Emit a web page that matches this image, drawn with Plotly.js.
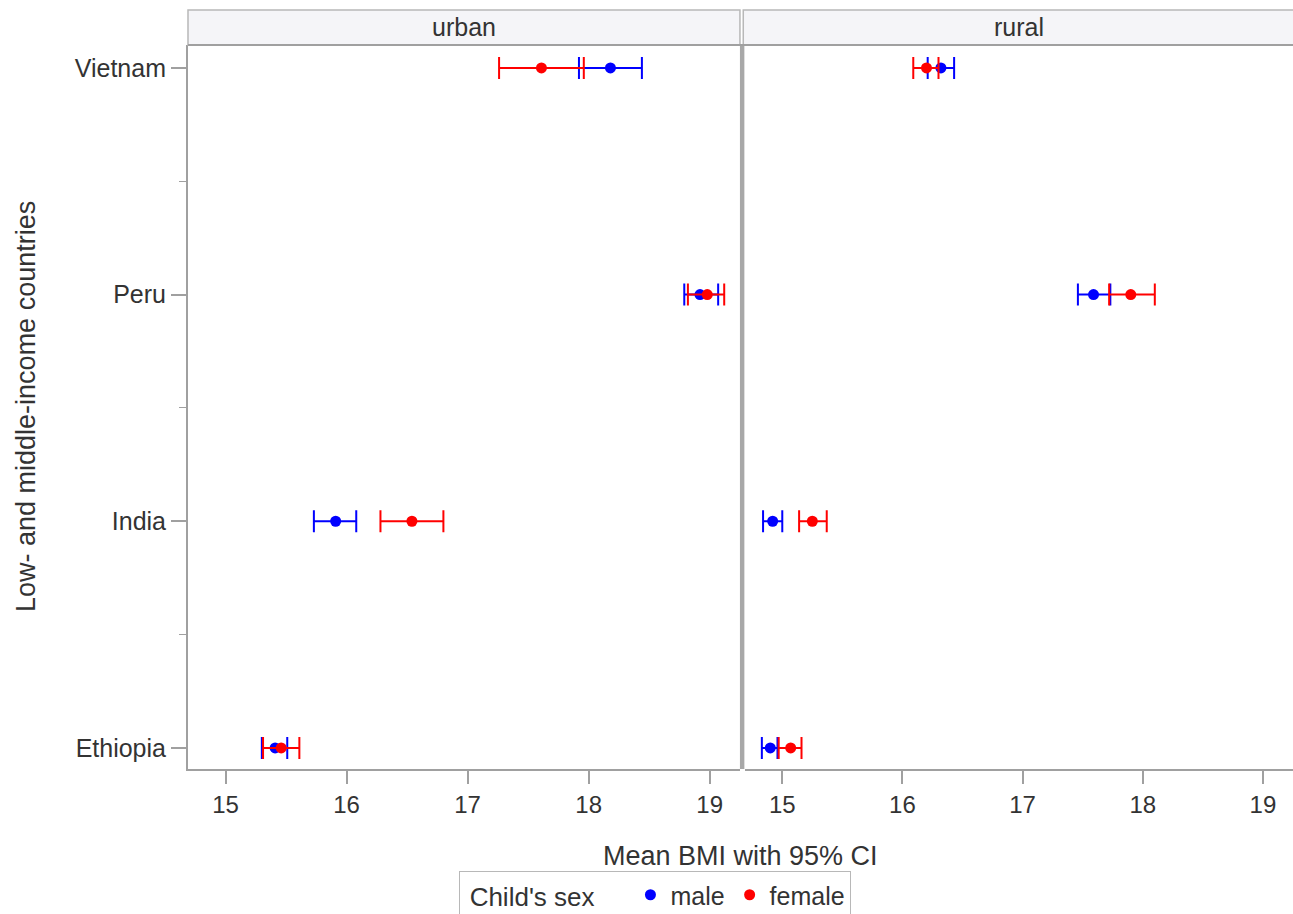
<!DOCTYPE html>
<html>
<head>
<meta charset="utf-8">
<script src="https://cdn.plot.ly/plotly-3.0.1.min.js"></script>
<style>html,body{margin:0;padding:0;background:#fff;}#chart{width:1293px;height:914px;}</style>
</head>
<body>
<div id="chart"></div>
<script>
// Data (y index 0..3 = Ethiopia, India, Peru, Vietnam)
const countries = ['Ethiopia', 'India', 'Peru', 'Vietnam'];
const panels = ['urban', 'rural'];

const urbanMaleMean   = [15.41, 15.91, 18.92, 18.18];
const urbanMaleLow    = [15.30, 15.73, 18.79, 17.92];
const urbanMaleHigh   = [15.51, 16.08, 19.07, 18.44];
const urbanFemaleMean = [15.46, 16.54, 18.98, 17.61];
const urbanFemaleLow  = [15.31, 16.28, 18.82, 17.26];
const urbanFemaleHigh = [15.61, 16.80, 19.12, 17.96];

const ruralMaleMean   = [14.90, 14.92, 17.59, 16.32];
const ruralMaleLow    = [14.83, 14.84, 17.46, 16.21];
const ruralMaleHigh   = [14.96, 15.00, 17.73, 16.43];
const ruralFemaleMean = [15.07, 15.25, 17.90, 16.20];
const ruralFemaleLow  = [14.97, 15.14, 17.72, 16.09];
const ruralFemaleHigh = [15.16, 15.37, 18.10, 16.30];

const xTicks = [15, 16, 17, 18, 19];

const FONT = 'Liberation Sans, Arial, sans-serif';
const TXT = '#333';
const yIdx = countries.map((c, i) => i);

function trace(name, color, mean, low, high, xa, show) {
  return {
    type: 'scatter', mode: 'markers', name: name, legendgroup: name, showlegend: show,
    x: mean, y: yIdx, xaxis: xa, yaxis: 'y',
    marker: {color: color, size: 11},
    error_x: {type: 'data', symmetric: false,
      array: high.map((h, i) => h - mean[i]),
      arrayminus: low.map((l, i) => mean[i] - l),
      color: color, thickness: 2, width: 11},
    hoverinfo: 'x+y'
  };
}

const data = [
  trace('male', '#0000ff', urbanMaleMean, urbanMaleLow, urbanMaleHigh, 'x', true),
  trace('female', '#ff0000', urbanFemaleMean, urbanFemaleLow, urbanFemaleHigh, 'x', true),
  trace('male', '#0000ff', ruralMaleMean, ruralMaleLow, ruralMaleHigh, 'x2', false),
  trace('female', '#ff0000', ruralFemaleMean, ruralFemaleLow, ruralFemaleHigh, 'x2', false)
];

const YTOP = 0.9539;
const xaxBase = {
  range: [14.69, 19.25], tickmode: 'array', tickvals: xTicks, ticktext: xTicks.map(String),
  ticks: 'outside', ticklen: 13, tickcolor: '#a0a0a0', tickwidth: 2,
  showline: true, linecolor: '#a0a0a0', linewidth: 2, showgrid: false, zeroline: false,
  tickfont: {family: FONT, size: 24, color: TXT}, anchor: 'y', fixedrange: true
};

const layout = {
  width: 1293, height: 914,
  margin: {l: 188, r: 0, t: 10, b: 145, autoexpand: false},
  paper_bgcolor: '#fff', plot_bgcolor: '#fff',
  font: {family: FONT, color: TXT},
  showlegend: true,
  legend: {
    orientation: 'h', x: 0.423, xanchor: 'center', y: -0.1344, yanchor: 'top',
    title: {text: "\u00a0Child's sex\u00a0\u00a0\u00a0\u00a0", font: {family: FONT, size: 26, color: TXT}},
    font: {family: FONT, size: 25, color: TXT},
    bordercolor: '#b8b8b8', borderwidth: 1, bgcolor: '#fff', itemwidth: 30
  },
  xaxis: Object.assign({}, xaxBase, {domain: [0, 0.4995]}),
  xaxis2: Object.assign({}, xaxBase, {domain: [0.5041, 1]}),
  yaxis: {
    domain: [0, YTOP], range: [-0.093, 3.101],
    tickmode: 'array', tickvals: yIdx, ticktext: countries,
    ticks: 'outside', ticklen: 15, tickcolor: '#a0a0a0', tickwidth: 2,
    minor: {tickvals: [0.5, 1.5, 2.5], ticks: 'outside', ticklen: 7, tickcolor: '#a0a0a0', tickwidth: 1},
    showline: true, linecolor: '#a0a0a0', linewidth: 2, showgrid: false, zeroline: false,
    tickfont: {family: FONT, size: 25, color: TXT}, fixedrange: true
  },
  shapes: [
    // header strips
    {type: 'rect', xref: 'paper', yref: 'paper', x0: 0, x1: 0.4995, y0: YTOP, y1: 1,
     fillcolor: '#f5f5f8', line: {color: '#b8b8b8', width: 1.5}},
    {type: 'rect', xref: 'paper', yref: 'paper', x0: 0.5025, x1: 1.002, y0: YTOP, y1: 1,
     fillcolor: '#f5f5f8', line: {color: '#b8b8b8', width: 1.5}},
    // divider between panels
    {type: 'rect', xref: 'paper', yref: 'paper', x0: 0.4995, x1: 0.5035, y0: 0, y1: YTOP,
     fillcolor: '#a8a8a8', line: {width: 0}},
    // top border of plot area
    {type: 'line', xref: 'paper', yref: 'paper', x0: 0, x1: 1, y0: YTOP, y1: YTOP,
     line: {color: '#a0a0a0', width: 2}}
  ],
  annotations: [
    {text: panels[0], xref: 'paper', yref: 'paper', x: 0.2497, y: (YTOP + 1) / 2,
     xanchor: 'center', yanchor: 'middle', showarrow: false, font: {family: FONT, size: 25, color: TXT}},
    {text: panels[1], xref: 'paper', yref: 'paper', x: 0.752, y: (YTOP + 1) / 2,
     xanchor: 'center', yanchor: 'middle', showarrow: false, font: {family: FONT, size: 25, color: TXT}},
    {text: 'Mean BMI with 95% CI', xref: 'paper', yref: 'paper', x: 0.5, y: -0.114,
     xanchor: 'center', yanchor: 'middle', showarrow: false, font: {family: FONT, size: 27, color: TXT}},
    {text: 'Low- and middle-income countries', xref: 'paper', yref: 'paper', x: -0.1466, y: YTOP / 2,
     xanchor: 'center', yanchor: 'middle', textangle: -90, showarrow: false,
     font: {family: FONT, size: 27, color: TXT}}
  ]
};

Plotly.newPlot('chart', data, layout, {displayModeBar: false, staticPlot: true});
</script>
</body>
</html>
